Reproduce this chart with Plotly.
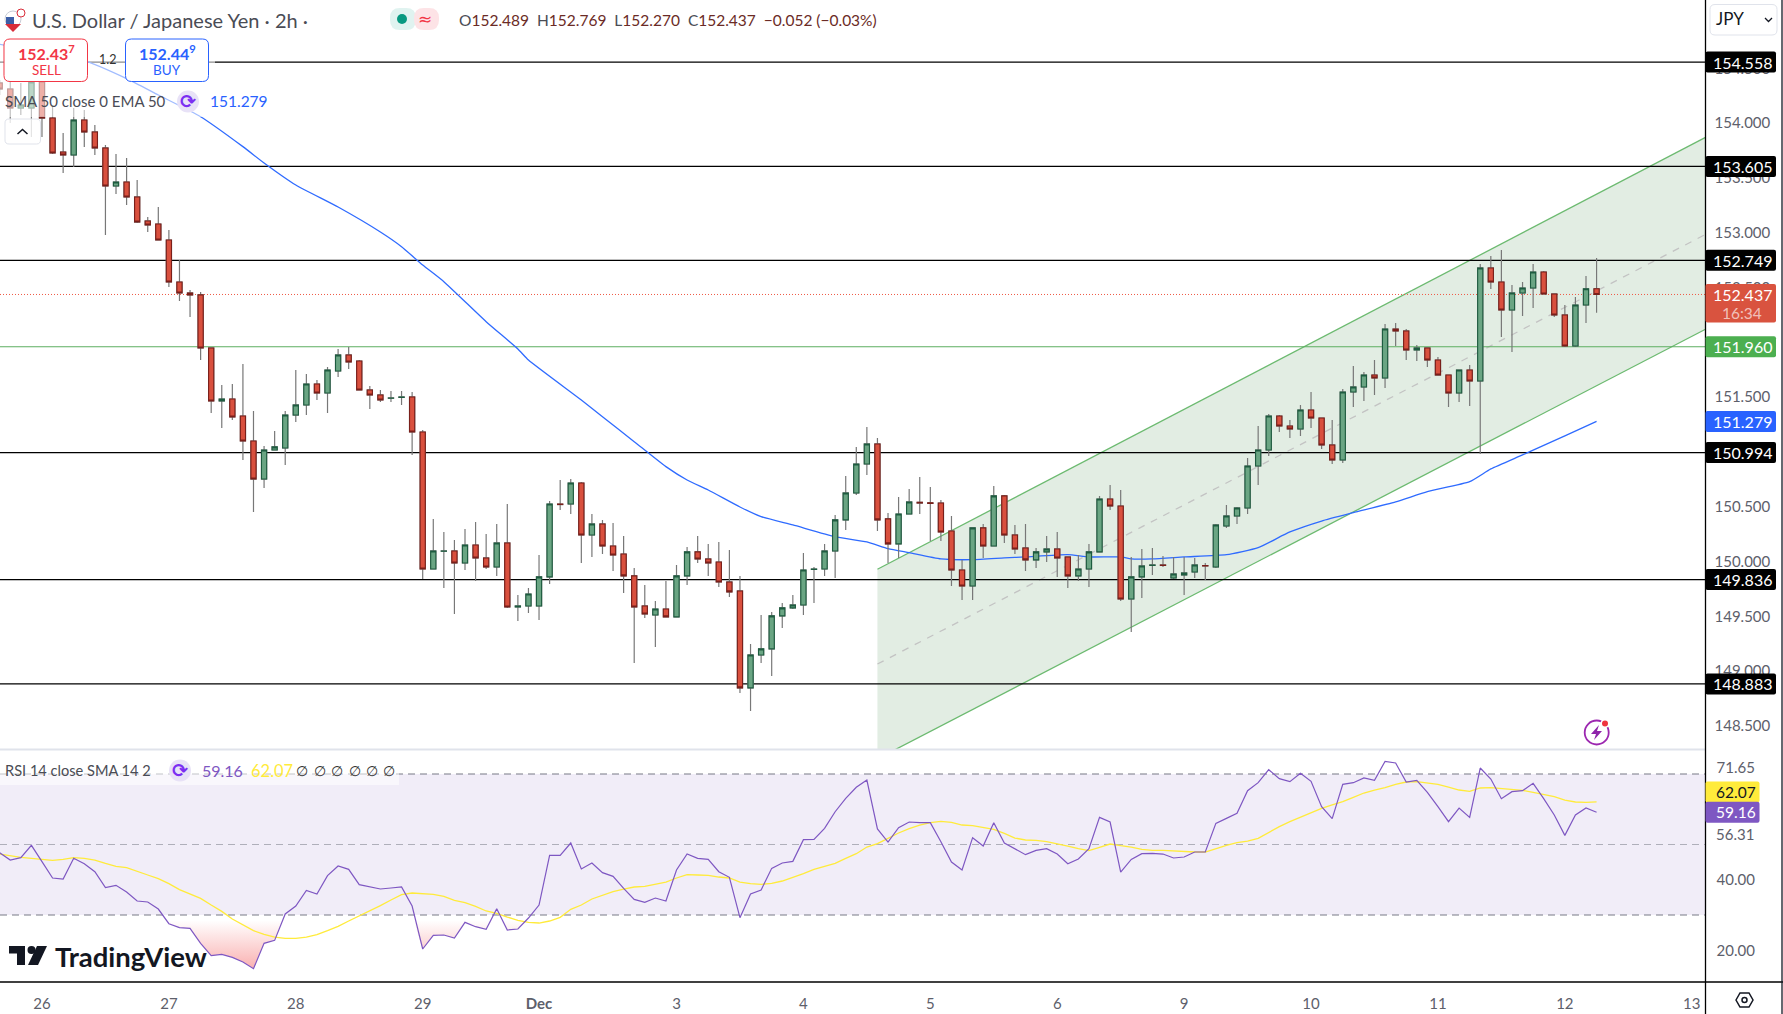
import plotly.graph_objects as go

# image size and pane edges, in pixels of the screenshot
W = 1783
H = 1014
PANE_R = 1705.5
MAIN_B = 749.4
RSI_B = 982

# price bars, left to right, 2h candles
opens = [154.367,154.312,154.139,154.139,154.376,154.047,153.737,153.710,154.029,153.920,
153.774,153.427,153.463,153.327,153.108,153.080,152.934,152.551,152.451,152.433,
151.949,151.465,151.483,151.328,151.100,150.753,151.018,151.036,151.337,151.429,
151.620,151.538,151.739,151.885,151.830,151.566,151.520,151.490,151.498,151.502,
151.182,149.932,150.094,150.097,149.987,150.151,150.033,149.951,150.170,149.586,
149.595,149.595,149.860,150.525,150.525,150.717,150.243,150.343,150.142,150.069,
149.869,149.595,149.513,149.567,149.495,149.869,150.088,150.024,149.996,149.814,
149.732,148.847,149.148,149.203,149.504,149.577,149.604,149.928,149.932,150.097,
150.380,150.626,150.890,151.073,150.389,150.161,150.434,150.540,150.536,150.534,
150.279,149.923,149.777,150.307,150.142,150.599,150.243,150.124,150.015,150.088,
150.115,150.042,149.869,149.932,150.088,150.571,150.507,149.659,149.860,149.965,
149.969,149.850,149.878,149.905,149.964,149.951,150.325,150.416,150.489,150.872,
151.018,151.328,151.237,151.210,151.383,151.310,151.064,150.927,151.547,151.593,
151.702,151.675,152.122,152.104,151.931,151.949,151.839,151.702,151.538,151.748,
151.648,152.679,152.551,152.296,152.451,152.496,152.642,152.442,152.250,151.967,
152.341,152.489]

highs = [154.394,154.394,154.367,154.421,154.394,154.166,153.911,154.139,154.120,153.983,
153.801,153.719,153.682,153.482,153.144,153.235,153.026,152.752,152.478,152.460,
151.949,151.611,151.620,151.803,151.374,151.055,151.192,151.374,151.748,151.712,
151.657,151.776,151.940,151.958,151.839,151.602,151.566,151.557,151.557,151.547,
151.201,150.389,150.270,150.197,150.297,150.361,150.252,150.343,150.525,149.695,
149.759,150.060,150.553,150.744,150.753,150.726,150.434,150.380,150.352,150.233,
149.942,149.787,149.640,149.823,149.969,150.133,150.233,150.161,150.179,150.106,
149.869,149.248,149.513,149.540,149.622,149.695,150.078,149.951,150.161,150.425,
150.781,151.046,151.228,151.128,150.443,150.589,150.662,150.772,150.680,150.562,
150.416,150.015,150.307,150.343,150.690,150.608,150.334,150.343,150.124,150.233,
150.270,150.042,150.060,150.161,150.599,150.699,150.653,150.042,150.115,150.124,
150.051,150.042,150.042,150.033,149.987,150.343,150.516,150.498,150.945,151.237,
151.347,151.337,151.292,151.429,151.547,151.310,151.292,151.575,151.785,151.730,
151.839,152.168,152.177,152.122,151.976,151.949,151.867,151.702,151.748,151.794,
152.715,152.788,152.843,152.524,152.551,152.715,152.651,152.442,152.341,152.414,
152.606,152.769]

lows = [154.257,154.002,154.075,153.874,153.874,153.719,153.546,153.600,153.783,153.710,
152.980,153.354,153.253,153.089,153.007,152.934,152.505,152.378,152.232,151.839,
151.356,151.219,151.292,150.927,150.453,150.671,151.018,150.881,151.274,151.337,
151.474,151.356,151.684,151.757,151.566,151.392,151.456,151.456,151.429,150.973,
149.841,149.932,149.759,149.522,149.923,149.823,149.932,149.869,149.577,149.458,
149.531,149.467,149.796,150.471,150.434,149.987,150.042,150.069,149.914,149.713,
149.075,149.485,149.221,149.495,149.495,149.787,149.987,149.869,149.768,149.677,
148.801,148.637,149.075,148.956,149.394,149.568,149.513,149.622,149.869,149.850,
150.288,150.608,150.790,150.279,149.987,150.033,150.434,150.434,150.188,150.188,
149.777,149.650,149.650,150.033,150.142,150.170,150.069,149.914,149.942,149.996,
149.860,149.759,149.823,149.768,150.088,150.471,149.640,149.358,149.668,149.878,
149.951,149.841,149.695,149.850,149.832,149.942,150.307,150.343,150.434,150.699,
150.963,151.182,151.128,151.146,151.219,151.027,150.890,150.900,151.411,151.465,
151.520,151.584,151.967,151.839,151.830,151.776,151.702,151.411,151.456,151.420,
150.982,152.487,152.049,151.912,152.241,152.314,152.442,152.232,151.958,151.958,
152.177,152.270]

closes = [154.312,154.139,154.166,154.376,154.047,153.728,153.710,154.029,153.920,153.774,
153.427,153.463,153.327,153.098,153.071,152.934,152.551,152.451,152.433,151.949,
151.465,151.483,151.319,151.100,150.753,151.018,151.046,151.337,151.429,151.620,
151.538,151.748,151.885,151.821,151.566,151.520,151.474,151.493,151.502,151.182,
149.932,150.097,150.097,149.987,150.151,150.033,149.951,150.170,149.586,149.595,
149.704,149.860,150.525,150.520,150.717,150.243,150.343,150.142,150.060,149.869,
149.586,149.522,149.567,149.495,149.869,150.088,150.024,149.987,149.814,149.723,
148.847,149.148,149.203,149.504,149.577,149.604,149.923,149.932,150.097,150.380,
150.626,150.890,151.073,150.380,150.161,150.434,150.544,150.534,150.530,150.270,
149.923,149.777,150.307,150.142,150.599,150.243,150.115,150.015,150.088,150.115,
150.033,149.869,149.932,150.088,150.571,150.507,149.659,149.860,149.960,149.969,
149.965,149.887,149.896,149.969,149.960,150.334,150.416,150.489,150.872,151.018,
151.328,151.237,151.210,151.383,151.310,151.064,150.927,151.547,151.593,151.702,
151.675,152.122,152.104,151.931,151.949,151.839,151.702,151.538,151.748,151.648,
152.679,152.551,152.296,152.451,152.496,152.642,152.442,152.250,151.967,152.341,
152.489,152.437]

# EMA 50, read at these bars
ema_bars = [0,8,12,15,19,23,25,28,32,36,38,40,42,46,49,50,55,57,60,63,65,67,70,72,75,79,82,84,86,89,92,95,97,101,103,106,107,109,112,116,119,122,125,128,132,135,139,141,144,148,151]
ema_vals = [154.72,154.570,154.406,154.257,154.059,153.786,153.637,153.436,153.235,153.007,152.873,152.706,152.554,152.189,151.940,151.839,151.474,151.322,151.094,150.866,150.744,150.653,150.498,150.410,150.334,150.227,150.179,150.118,150.081,150.024,150.017,150.033,150.042,150.063,150.042,150.042,150.024,150.024,150.042,150.063,150.127,150.270,150.370,150.446,150.544,150.638,150.729,150.845,150.973,151.146,151.279]

# RSI pane
rsi_vals = [47.68,45.6,46.27,49.76,45.13,40.5,40.21,46.08,44.56,42.3,
37.76,38.42,36.52,33.97,33.69,31.7,27.54,26.41,26.22,21.96,
18.47,18.84,17.99,16.67,14.78,21.96,22.81,30.29,32.55,36.99,
35.96,41.16,43.9,42.96,38.61,37.95,37.38,37.66,37.95,32.55,
20.36,24.23,24.33,23.48,27.92,26.69,25.93,31.8,25.75,26.03,
29.15,32.84,46.93,46.93,50.43,43.05,44.75,
42.01,40.97,37.57,34.44,33.59,34.82,33.97,42.77,47.3,46.08,
45.79,42.3,40.69,29.25,35.96,37.09,43.24,44.75,45.22,51.37,
51.47,54.59,59.3,63.1,66.22,68.3,54.4,50.71,54.78,56.38,
56.2,56.2,50.8,45.04,42.77,51.94,49.57,56.2,50.43,48.82,
47.12,48.35,48.82,47.3,44.56,45.89,48.82,57.7,56.38,42.2,
45.79,47.4,47.49,47.3,46.17,46.45,47.87,
47.87,56.0,57.42,58.84,65.27,67.54,71.23,68.68,67.83,70.19,
67.92,60.73,57.33,67.07,67.54,68.87,68.2,73.6,73.12,67.73,
68.2,64.8,60.73,56.48,60.35,57.71,71.7,68.58,63.0,64.99,
65.27,67.35,63.0,58.37,52.6,58.37,60.35,59.16]

rsi_sma = [47.3,46.74,46.36,46.08,45.79,45.51,45.79,46.27,46.08,45.6,
44.66,43.81,43.43,42.48,41.35,40.31,38.89,37.19,35.96,34.73,
32.84,31.04,28.87,27.16,25.56,24.52,23.76,23.38,23.38,23.76,
24.42,25.56,26.79,28.3,29.72,31.23,32.65,34.26,35.77,36.24,
36.15,35.87,35.3,34.16,33.5,32.46,31.14,30.47,29.43,28.49,
27.92,27.73,28.3,29.34,31.61,32.84,34.54,
35.67,36.62,37.37,37.95,38.13,38.8,39.36,40.5,41.44,41.35,
41.25,40.78,40.5,39.36,38.89,38.7,38.98,39.65,40.59,41.73,
42.96,43.9,44.66,46.08,47.4,49.29,50.24,51.75,53.26,54.5,
55.53,56.2,56.57,56.29,55.53,55.34,54.78,54.3,53.17,51.84,
51.28,51.18,50.8,50.24,49.57,48.82,48.25,49.2,50.14,49.67,
49.29,48.63,48.35,48.35,48.16,47.97,47.87,
47.87,48.91,49.76,50.52,50.99,51.75,53.45,55.06,56.48,57.71,
59.03,60.26,61.21,62.15,63.38,64.61,65.46,66.12,67.07,67.73,
67.83,67.54,67.07,66.31,65.46,65.08,66.03,66.12,65.84,65.56,
65.37,64.8,64.23,63.57,62.62,62.06,61.96,62.07]

rsi_levels = [70, 50, 30]

# horizontal price levels and labels
black_levels = [154.558, 153.605, 152.749, 150.994, 149.836, 148.883]
green_level = 151.960
last_price = 152.437
ema_last = 151.279
timer = "16:34"

# regression channel: start bar, end bar, then lower / mid / upper at each end
chan_bars = [83, 161.3]
chan_lower = [148.20, 152.12]
chan_mid = [149.065, 152.985]
chan_upper = [149.93, 153.87]

# axes
day_bars = [4, 16, 28, 40, 51, 64, 76, 88, 100, 112, 124, 136, 148, 160]
day_labels = ["26", "27", "28", "29", "<b>Dec</b>", "3", "4", "5", "6", "9", "10", "11", "12", "13"]
price_ticks = [148.5, 149, 149.5, 150, 150.5, 151, 151.5, 152, 152.5, 153, 153.5, 154, 154.5]
rsi_ticks = [71.65, 40, 20]
rsi_tick_text = ["71.65", "40.00", "20.00"]

FONT = "Lato"
GREY = "#5d606b"
TITLE = "#4a4c55"
VAL = "#6b2b26"
RED = "#d9533f"
PURPLE = "#7e57c2"
YELLOW = "#ffeb3b"
BLUE = "#2962ff"
GREEN = "#4caf50"

xrange = [0.03, 161.3]
yrange = [148.286, 155.124]
rsi_range = [11.0, 76.98]


def px(x):
    return x / W


def py(y):
    return 1 - y / H


def rbox(x0, y0, x1, y1, r, fill, line=None, width=1, opacity=1):
    # rounded box given in screenshot pixels
    p = "M%f,%f L%f,%f Q%f,%f %f,%f L%f,%f Q%f,%f %f,%f L%f,%f Q%f,%f %f,%f L%f,%f Q%f,%f %f,%f Z" % (
        px(x0 + r), py(y0), px(x1 - r), py(y0), px(x1), py(y0), px(x1), py(y0 + r),
        px(x1), py(y1 - r), px(x1), py(y1), px(x1 - r), py(y1),
        px(x0 + r), py(y1), px(x0), py(y1), px(x0), py(y1 - r),
        px(x0), py(y0 + r), px(x0), py(y0), px(x0 + r), py(y0))
    return dict(type="path", path=p, xref="paper", yref="paper", fillcolor=fill,
                line=dict(color=line if line else "rgba(0,0,0,0)", width=width), opacity=opacity, layer="above")


def poly(points, fill=None, line=None, width=1.5, close=True):
    p = "M" + " L".join("%f,%f" % (px(a), py(b)) for a, b in points) + (" Z" if close else "")
    return dict(type="path", path=p, xref="paper", yref="paper",
                fillcolor=fill if fill else "rgba(0,0,0,0)",
                line=dict(color=line if line else "rgba(0,0,0,0)", width=width), layer="above")


def circle(cx, cy, r, fill, line=None, width=1):
    return dict(type="circle", xref="paper", yref="paper", x0=px(cx - r), x1=px(cx + r), y0=py(cy + r), y1=py(cy - r),
                fillcolor=fill, line=dict(color=line if line else "rgba(0,0,0,0)", width=width), layer="above")


def vline(x, y0, y1, color, width):
    return dict(type="line", xref="paper", yref="paper", x0=px(x), x1=px(x), y0=py(y0), y1=py(y1),
                line=dict(color=color, width=width), layer="above")


def hline(x0, x1, y, color, width):
    return dict(type="line", xref="paper", yref="paper", x0=px(x0), x1=px(x1), y0=py(y), y1=py(y),
                line=dict(color=color, width=width), layer="above")


def label(x, y, text, size=15, color=GREY, anchor="left", family=FONT):
    return dict(x=px(x), y=py(y), xref="paper", yref="paper", text=text, showarrow=False,
                xanchor=anchor, yanchor="middle", font=dict(family=family, size=size, color=color))


def price_y(p):
    # pane pixel of a price, for the boxes on the axis
    return (yrange[1] - p) / (yrange[1] - yrange[0]) * MAIN_B


def rsi_y(v):
    return MAIN_B + (rsi_range[1] - v) / (rsi_range[1] - rsi_range[0]) * (RSI_B - MAIN_B)


bars = list(range(len(closes)))
body_high = [max(o, c) for o, c in zip(opens, closes)]
body_low = [min(o, c) for o, c in zip(opens, closes)]

fig = go.Figure()

# channel
fig.add_trace(go.Scatter(x=chan_bars + chan_bars[::-1], y=chan_lower + chan_upper[::-1], fill="toself",
                         fillcolor="rgba(76,140,80,0.16)", mode="none", hoverinfo="skip"))
fig.add_trace(go.Scatter(x=chan_bars, y=chan_upper, mode="lines", line=dict(color="#6cba70", width=1.3), hoverinfo="skip"))
fig.add_trace(go.Scatter(x=chan_bars, y=chan_lower, mode="lines", line=dict(color="#6cba70", width=1.3), hoverinfo="skip"))
fig.add_trace(go.Scatter(x=chan_bars, y=chan_mid, mode="lines", line=dict(color="#c3c3c3", width=1.3, dash="7px,7px"), hoverinfo="skip"))

# levels
for lv in black_levels:
    fig.add_trace(go.Scatter(x=xrange, y=[lv, lv], mode="lines", line=dict(color="#000000", width=1.2), hoverinfo="skip"))
fig.add_trace(go.Scatter(x=xrange, y=[green_level, green_level], mode="lines", line=dict(color="#5cae60", width=1.2), hoverinfo="skip"))
fig.add_trace(go.Scatter(x=xrange, y=[last_price, last_price], mode="lines", line=dict(color="#ef5a45", width=1, dash="1px,2px"), hoverinfo="skip"))

# ema
fig.add_trace(go.Scatter(x=ema_bars, y=ema_vals, mode="lines", line=dict(color="#2f6bff", width=1.3, shape="spline", smoothing=0.5), hoverinfo="skip"))

# candles sit on overlaying axes so they come above the lines
fig.add_trace(go.Candlestick(x=bars, open=opens, high=highs, low=lows, close=closes, xaxis="x3", yaxis="y3",
                             increasing=dict(line=dict(color="#787878", width=1.2), fillcolor="#787878"),
                             decreasing=dict(line=dict(color="#787878", width=1.2), fillcolor="#787878"),
                             hoverinfo="skip"))
fig.add_trace(go.Candlestick(x=bars, open=opens, high=body_high, low=body_low, close=closes, xaxis="x3", yaxis="y3",
                             increasing=dict(line=dict(color="#1e5c40", width=1.1), fillcolor="#6aa583"),
                             decreasing=dict(line=dict(color="#7a1f1a", width=1.1), fillcolor="#d9503e"),
                             hoverinfo="skip"))

# rsi oversold shading, the gradient runs from the 30 line down
floor = [rsi_levels[2]] * len(bars)
fig.add_trace(go.Scatter(x=bars, y=floor, yaxis="y2", mode="lines", line=dict(width=0, color="rgba(0,0,0,0)"), hoverinfo="skip"))
fig.add_trace(go.Scatter(x=bars, y=[min(v, rsi_levels[2]) for v in rsi_vals], yaxis="y2", mode="lines",
                         line=dict(width=0, color="rgba(0,0,0,0)"), fill="tonexty", hoverinfo="skip",
                         fillgradient=dict(type="vertical", start=14, stop=28.5,
                                           colorscale=[[0, "rgba(242,70,70,0.45)"], [1, "rgba(242,70,70,0)"]])))
fig.add_trace(go.Scatter(x=bars, y=rsi_sma, yaxis="y2", mode="lines", line=dict(color=YELLOW, width=1.3), hoverinfo="skip"))
fig.add_trace(go.Scatter(x=bars, y=rsi_vals, yaxis="y2", mode="lines", line=dict(color=PURPLE, width=1.2), hoverinfo="skip"))

shapes = []
# rsi band and its dashed levels
shapes.append(dict(type="rect", xref="paper", yref="y2", x0=0, x1=px(PANE_R), y0=rsi_levels[2], y1=rsi_levels[0],
                   fillcolor="rgba(126,87,194,0.11)", line=dict(width=0), layer="below"))
shapes.append(dict(type="line", xref="paper", yref="y2", x0=0, x1=px(PANE_R), y0=70, y1=70,
                   line=dict(color="#787b86", width=1.2, dash="7px,5px"), layer="below"))
shapes.append(dict(type="line", xref="paper", yref="y2", x0=0, x1=px(PANE_R), y0=50, y1=50,
                   line=dict(color="rgba(120,123,134,0.55)", width=1.2, dash="7px,5px"), layer="below"))
shapes.append(dict(type="line", xref="paper", yref="y2", x0=0, x1=px(PANE_R), y0=30, y1=30,
                   line=dict(color="#787b86", width=1.2, dash="7px,5px"), layer="below"))

# frame
shapes.append(hline(0, PANE_R, MAIN_B, "#e0e3eb", 2))
shapes.append(hline(0, W, RSI_B, "#000000", 1.3))
shapes.append(vline(PANE_R, 0, H, "#000000", 1.3))
shapes.append(vline(W - 1, 0, H, "#131722", 1.3))

# legend washes
shapes.append(dict(type="rect", xref="paper", yref="paper", x0=0, x1=px(215), y0=py(117), y1=py(40),
                   fillcolor="rgba(255,255,255,0.55)", line=dict(width=0), layer="above"))
shapes.append(dict(type="rect", xref="paper", yref="paper", x0=0, x1=px(399), y0=py(785), y1=py(752),
                   fillcolor="rgba(255,255,255,0.55)", line=dict(width=0), layer="above"))

ann = []

# title row
ann.append(label(30, 20, "U.S. Dollar / Japanese Yen · 2h ·", 20, TITLE))
ohlc = "".join('<span style="color:%s">%s</span><span style="color:%s">%s</span>&nbsp;&nbsp;' % (TITLE, k, VAL, v)
               for k, v in [("O", "152.489"), ("H", "152.769"), ("L", "152.270"), ("C", "152.437")])
ann.append(label(457, 20, ohlc + '<span style="color:%s">−0.052 (−0.03%%)</span>' % VAL, 15.5))
shapes.append(circle(13, 19, 8, "#ffffff", "#c8ccd6", 1))
shapes.append(dict(type="path", xref="paper", yref="paper", layer="above", fillcolor="#d92d3a", line=dict(width=0),
                   path="M%f,%f L%f,%f L%f,%f Z" % (px(5), py(24), px(21), py(24), px(13), py(32))))
shapes.append(dict(type="rect", xref="paper", yref="paper", layer="above", fillcolor="#3c5fa8", line=dict(width=0),
                   x0=px(6), x1=px(14), y0=py(24), y1=py(17)))
shapes.append(circle(21, 13, 4, "#ffffff", "#d92d3a", 1))

# status pill
shapes.append(rbox(390, 8, 416, 30, 10, "#e0f3f0"))
shapes.append(rbox(414, 8, 439, 30, 10, "#fde3e6"))
shapes.append(circle(402, 19, 5, "#089981"))
ann.append(label(425, 19, "≈", 17, "#f23645", "center", "DejaVu Sans"))

# sell / buy buttons
shapes.append(rbox(4, 39, 87.5, 81.5, 6, "#ffffff", "#f23645", 1))
shapes.append(rbox(125.5, 39, 208.5, 81.5, 6, "#ffffff", BLUE, 1))
ann.append(label(46, 52, "<b>152.43<sup>7</sup></b>", 16, "#f23645", "center"))
ann.append(label(46, 70, "SELL", 13.5, "#f23645", "center"))
ann.append(label(167, 52, "<b>152.44<sup>9</sup></b>", 16, BLUE, "center"))
ann.append(label(167, 70, "BUY", 13.5, BLUE, "center"))
ann.append(label(107, 60, "1.2", 12.5, "#333333", "center"))

# indicator legend
ann.append(label(3, 101, "SMA 50 close 0 EMA 50", 15, TITLE))
shapes.append(circle(188, 101.5, 11, "#e8e2f7"))
ann.append(label(188, 101, "<b>⟳</b>", 19, "#7b2ff2", "center", "DejaVu Sans"))
ann.append(label(208, 101, "151.279", 15.5, BLUE))
shapes.append(rbox(5, 119, 40.5, 144, 4, "rgba(255,255,255,0.8)", "#e0e3eb", 1))
shapes.append(poly([(17.5, 134), (22.5, 129.5), (27.5, 134)], line="#131722", width=1.5, close=False))

# rsi legend
ann.append(label(3, 770.5, "RSI 14 close SMA 14 2", 14.6, TITLE))
shapes.append(circle(180, 770.5, 11, "#e8e2f7"))
ann.append(label(180, 770, "<b>⟳</b>", 19, "#7b2ff2", "center", "DejaVu Sans"))
ann.append(label(200, 770.5, "59.16", 16, PURPLE))
ann.append(label(249, 770.5, "62.07", 16.5, YELLOW))
for xp in [302, 319.6, 337, 354.5, 372, 389]:
    ann.append(label(xp, 770.5, "∅", 14, "#333333", "center", "DejaVu Sans"))

# price axis boxes
for lv in black_levels:
    yy = price_y(lv)
    shapes.append(rbox(PANE_R, yy - 10.5, 1776, yy + 10.5, 2, "#000000"))
    ann.append(label(1742, yy, "%.3f" % lv, 16, "#ffffff", "center"))
yy = price_y(green_level)
shapes.append(rbox(PANE_R, yy - 10.5, 1776, yy + 10.5, 2, GREEN))
ann.append(label(1742, yy, "%.3f" % green_level, 16, "#ffffff", "center"))
yy = price_y(ema_last)
shapes.append(rbox(PANE_R, yy - 10.5, 1776, yy + 10.5, 2, BLUE))
ann.append(label(1742, yy, "%.3f" % ema_last, 16, "#ffffff", "center"))
yy = price_y(last_price)
shapes.append(rbox(PANE_R, yy - 10.5, 1776, yy + 28, 2, RED))
ann.append(label(1742, yy, "%.3f" % last_price, 16, "#ffffff", "center"))
ann.append(label(1742, yy + 18.5, timer, 15.5, "rgba(255,255,255,0.65)", "center"))

# rsi axis boxes
yy = rsi_y(rsi_sma[-1]) - 10
shapes.append(rbox(PANE_R, yy - 10.5, 1759.5, yy + 10.5, 2, YELLOW))
ann.append(label(1714, yy, "%.2f" % rsi_sma[-1], 15.5, "#131722"))
yy = rsi_y(rsi_vals[-1])
shapes.append(rbox(PANE_R, yy - 10.5, 1759.5, yy + 10.5, 2, PURPLE))
ann.append(label(1714, yy, "%.2f" % rsi_vals[-1], 15.5, "#ffffff"))
ann.append(label(1714, 834, "56.31", 15, GREY))

# currency button
shapes.append(rbox(1710, 4.5, 1777, 35, 5, "#ffffff", "#e0e3eb", 1))
ann.append(label(1714, 19, "JPY", 17, "#131722"))
shapes.append(poly([(1765, 18), (1768.5, 21.5), (1772, 18)], line="#131722", width=1.3, close=False))

# logo
shapes.append(poly([(9, 946), (25, 946), (25, 965), (17, 965), (17, 953.5), (9, 953.5)], fill="#131722"))
shapes.append(circle(31.5, 950, 4, "#131722"))
shapes.append(poly([(37, 946), (47, 946), (38, 965), (28, 965)], fill="#131722"))
ann.append(label(53, 956, "<b>TradingView</b>", 27.5, "#131722"))

# lightning button
shapes.append(circle(1596.7, 732.5, 12, "#ffffff", "#9c27b0", 1.8))
shapes.append(poly([(1599, 725), (1591, 734), (1596, 734), (1594, 740), (1602, 731), (1597, 731)], fill="#8e24aa"))
shapes.append(circle(1605, 723.5, 4.5, "#ffffff"))
shapes.append(circle(1605, 723.5, 3, "#ef3340"))

# settings hexagon
shapes.append(poly([(1736, 1000), (1740, 993), (1749, 993), (1753, 1000), (1749, 1007), (1740, 1007)], line="#131722", width=1.5))
shapes.append(circle(1744.5, 1000, 2.5, "#ffffff", "#131722", 1.5))

fig.update_layout(
    width=W, height=H, margin=dict(l=0, r=0, t=0, b=0),
    paper_bgcolor="#ffffff", plot_bgcolor="#ffffff",
    showlegend=False, hovermode=False, boxgap=0.3, boxmode="overlay",
    font=dict(family=FONT, size=15, color=GREY),
    xaxis=dict(domain=[0, px(PANE_R)], range=xrange, anchor="y2", tickvals=day_bars, ticktext=day_labels,
               ticks="outside", ticklen=8, tickcolor="rgba(0,0,0,0)", showgrid=False, zeroline=False,
               rangeslider=dict(visible=False), tickfont=dict(family=FONT, size=15, color=GREY)),
    yaxis=dict(domain=[py(MAIN_B), 1], range=yrange, anchor="x", side="right", tickvals=price_ticks,
               tickformat=".3f", ticks="outside", ticklen=5, tickcolor="rgba(0,0,0,0)",
               showgrid=False, zeroline=False, tickfont=dict(family=FONT, size=15, color=GREY)),
    yaxis2=dict(domain=[py(RSI_B), py(MAIN_B)], range=rsi_range, anchor="x", side="right", tickvals=rsi_ticks,
                ticktext=rsi_tick_text, ticks="outside", ticklen=7, tickcolor="rgba(0,0,0,0)",
                showgrid=False, zeroline=False, tickfont=dict(family=FONT, size=15, color=GREY)),
    xaxis3=dict(overlaying="x", range=xrange, anchor="y3", visible=False, rangeslider=dict(visible=False)),
    yaxis3=dict(overlaying="y", range=yrange, anchor="x3", visible=False),
    shapes=shapes, annotations=ann,
)

fig.write_html("out.html", config={"displayModeBar": False}, post_script="document.body.style.margin='0';")
